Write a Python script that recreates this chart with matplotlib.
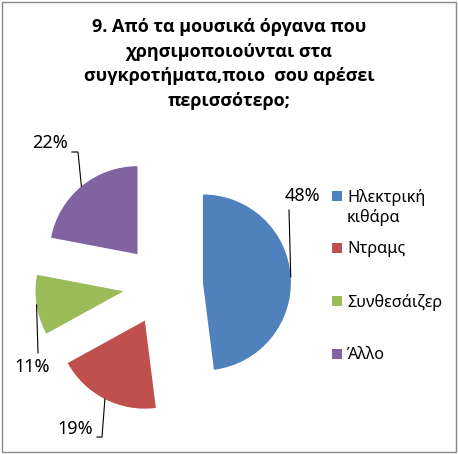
import numpy as np
import matplotlib
matplotlib.use('Agg')
import matplotlib.pyplot as plt
from matplotlib.patches import Rectangle

# data
labels = ['Ηλεκτρική\nκιθάρα', 'Ντραμς', 'Συνθεσάιζερ', 'Άλλο']
values = [48, 19, 11, 22]
colors = ['#4F81BD', '#C0504D', '#9BBB59', '#8064A2']
title = '9. Από τα μουσικά όργανα που\nχρησιμοποιούνται στα\nσυγκροτήματα,ποιο  σου αρέσει\nπερισσότερο;'

W, H = 458, 454
plt.rcParams['font.family'] = ['Noto Sans', 'DejaVu Sans']

fig = plt.figure(figsize=(W / 100, H / 100), dpi=100)
ax = fig.add_axes([0, 0, 1, 1])

# pie in pixel units (y up)
center = (163, 169)
radius = 88
expl = 40
wedges, _ = ax.pie(values, colors=colors, startangle=90, counterclock=False,
                   center=center, radius=radius, explode=[expl] * len(values),
                   wedgeprops=dict(linewidth=0))
ax.set_xlim(0, W)
ax.set_ylim(0, H)
ax.set_aspect('auto')
ax.axis('off')

# percentage labels with leader lines
label_pos = [(302, 258), (75, 25), (32, 87), (50, 311)]
leader_tail = [[(289, 244)], [(102, 17), (97, 17)], [(38, 101)], [(78, 302), (72, 302)]]
for w, v, pos, tail in zip(wedges, values, label_pos, leader_tail):
    mid = np.deg2rad((w.theta1 + w.theta2) / 2)
    cx, cy = w.center
    anchor = (cx + radius * np.cos(mid), cy + radius * np.sin(mid))
    pts = [anchor] + tail
    ax.plot([p[0] for p in pts], [p[1] for p in pts], color='black', lw=0.8)
    ax.text(pos[0], pos[1], f'{v}%', ha='center', va='center', fontsize=13)

# legend (Excel style slots)
leg_y = [258, 206, 153, 100]
for lab, c, y in zip(labels, colors, leg_y):
    ax.add_patch(Rectangle((332, y - 5), 10, 10, facecolor=c, edgecolor='none'))
    ax.text(347, y + 7, lab, ha='left', va='top', fontsize=11.7, linespacing=1.2)

ax.text(W / 2, H - 64, title, ha='center', va='center', fontsize=13,
        fontweight='bold', family=['Open Sans', 'DejaVu Sans'], linespacing=1.46)

# chart frame
fig.patches.append(Rectangle((2, 2), W - 4, H - 4, transform=None, fill=False,
                             edgecolor='#888888', lw=1))

fig.savefig('out.png', dpi=100)
